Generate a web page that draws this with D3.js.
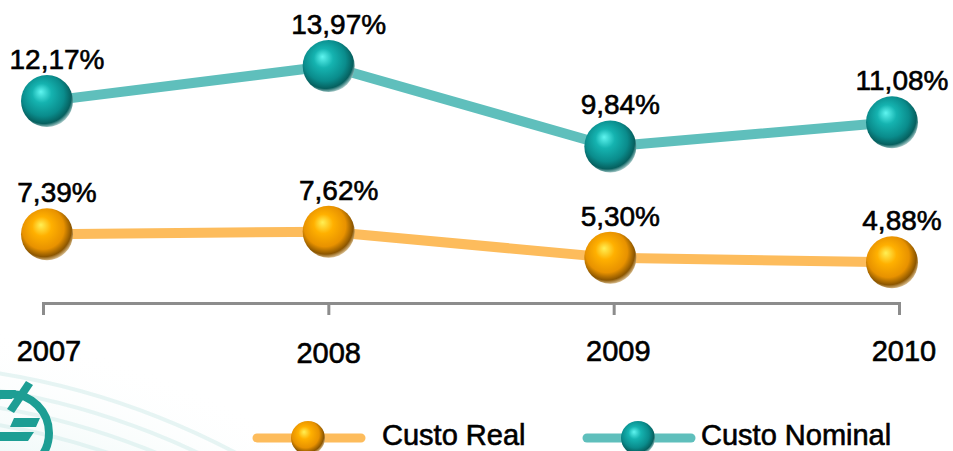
<!DOCTYPE html>
<html>
<head>
<meta charset="utf-8">
<script src="https://cdn.jsdelivr.net/npm/d3@7"></script>
<style>
  body { margin: 0; background: #fff; }
  svg { display: block; font-family: Arial, "Liberation Sans", sans-serif; }
  text { stroke: #000; stroke-width: 0.6px; paint-order: stroke; }
</style>
</head>
<body>
<script>

// data
const years = ["2007", "2008", "2009", "2010"];
const custoNominal = [12.17, 13.97, 9.84, 11.08];
const custoReal = [7.39, 7.62, 5.30, 4.88];
const nominalLabels = ["12,17%", "13,97%", "9,84%", "11,08%"];
const realLabels = ["7,39%", "7,62%", "5,30%", "4,88%"];
const legendNames = ["Custo Real", "Custo Nominal"];

const w = 953;
const h = 451;

const tealLine = "#5fbfbc";
const orangeLine = "#fdbc5c";

// scales (the two series sit on their own vertical scale)
const xScale = d3.scalePoint()
    .domain(years)
    .range([47, 892]);

const xAxisScale = d3.scalePoint()
    .domain(years)
    .range([43, 899]);

const yNominal = d3.scaleLinear()
    .domain([0, 15])
    .range([338, 46]);

const yReal = d3.scaleLinear()
    .domain([0, 10])
    .range([317, 205]);

const svg = d3.select("body")
  .append("svg")
    .attr("width", w)
    .attr("height", h);

const defs = svg.append("defs");

function sphereGrad(id, stops) {
  const g = defs.append("radialGradient")
      .attr("id", id)
      .attr("cx", "45%").attr("cy", "42%")
      .attr("fx", "38%").attr("fy", "32%")
      .attr("r", "62%");
  stops.forEach(s => g.append("stop").attr("offset", s[0]).attr("stop-color", s[1]));
}
sphereGrad("tealBall", [["0%", "#5ff5f0"], ["30%", "#15b3b0"], ["65%", "#0a8c8c"], ["85%", "#06605f"], ["100%", "#e8f4f3"]]);
sphereGrad("orangeBall", [["0%", "#fff055"], ["30%", "#ffb000"], ["65%", "#e89200"], ["85%", "#8c5600"], ["100%", "#f6e6c8"]]);

const bgGrad = defs.append("radialGradient")
    .attr("id", "bgFade")
    .attr("gradientUnits", "userSpaceOnUse")
    .attr("cx", -120).attr("cy", 1120).attr("r", 800);
bgGrad.append("stop").attr("offset", "78%").attr("stop-color", "#d9f0ee").attr("stop-opacity", 0.75);
bgGrad.append("stop").attr("offset", "100%").attr("stop-color", "#ffffff").attr("stop-opacity", 0);

// faint background swirl with logo
const bg = svg.append("g").attr("class", "background");

bg.append("circle")
    .attr("cx", -120).attr("cy", 1120).attr("r", 800)
    .attr("fill", "url(#bgFade)");

[705, 722, 739, 756].forEach(r => {
  bg.append("circle")
      .attr("cx", -120).attr("cy", 1120).attr("r", r)
      .attr("fill", "none")
      .attr("stroke", "#c9e9e6")
      .attr("stroke-opacity", 0.45)
      .attr("stroke-width", 4);
});

bg.append("circle")
    .attr("cx", 10).attr("cy", 433).attr("r", 39)
    .attr("fill", "none")
    .attr("stroke", "#1d9e94")
    .attr("stroke-width", 8);

bg.append("path")
    .attr("d", "M26,381 L33,385 L14,413 L7,409 Z")
    .attr("fill", "#1d9e94");
bg.append("path")
    .attr("d", "M14,418 L40,418 L36,427 L10,427 Z M0,432 L34,432 L28,441 L0,441 Z M0,390 L16,390 L12,399 L0,399 Z")
    .attr("fill", "#1d9e94");

// x axis
svg.append("g")
    .attr("class", "xAxis")
    .attr("transform", "translate(0, 303)")
    .call(d3.axisBottom(xAxisScale).tickSize(12).tickSizeOuter(12).tickFormat(""))
    .call(g => g.selectAll("path, line").attr("stroke", "#8c8c8c").attr("stroke-width", 3));

const yearDx = [2, 0, 8, 12];
const yearDy = [0, 2, 0, 0];
svg.append("g")
  .selectAll("text")
  .data(years)
  .join("text")
    .attr("x", (d, i) => xScale(d) + yearDx[i])
    .attr("y", (d, i) => 361 + yearDy[i])
    .attr("text-anchor", "middle")
    .attr("font-size", 29)
    .attr("fill", "#000")
    .text(d => d);

// lines
const series = [
  {name: "nominal", values: custoNominal, labels: nominalLabels, y: yNominal, line: tealLine, ball: "url(#tealBall)"},
  {name: "real", values: custoReal, labels: realLabels, y: yReal, line: orangeLine, ball: "url(#orangeBall)"}
];

series.forEach(s => {
  const pts = years.map((yr, i) => ({year: yr, value: s.values[i], label: s.labels[i]}));

  svg.append("path")
      .datum(pts)
      .attr("fill", "none")
      .attr("stroke", s.line)
      .attr("stroke-width", 10)
      .attr("stroke-linejoin", "round")
      .attr("d", d3.line().x(d => xScale(d.year)).y(d => s.y(d.value)));

  svg.append("g")
    .selectAll("circle")
    .data(pts)
    .join("circle")
      .attr("cx", d => xScale(d.year))
      .attr("cy", d => s.y(d.value))
      .attr("r", 26)
      .attr("fill", s.ball);

  svg.append("g")
    .selectAll("text")
    .data(pts)
    .join("text")
      .attr("x", d => xScale(d.year) + 10)
      .attr("y", d => s.y(d.value) - 32)
      .attr("text-anchor", "middle")
      .attr("font-size", 28)
      .attr("fill", "#000")
      .text(d => d.label);
});

// legend
const legendX = [253, 583];
const legend = svg.append("g").attr("class", "legend");
[series[1], series[0]].forEach((s, i) => {
  const x0 = legendX[i];
  legend.append("line")
      .attr("x1", x0 + 4).attr("x2", x0 + 108)
      .attr("y1", 438).attr("y2", 438)
      .attr("stroke", s.line)
      .attr("stroke-width", 9)
      .attr("stroke-linecap", "round");
  legend.append("circle")
      .attr("cx", x0 + 55).attr("cy", 438).attr("r", 17)
      .attr("fill", s.ball);
  legend.append("text")
      .attr("x", x0 + (i === 0 ? 129 : 118))
      .attr("y", 445)
      .attr("font-size", 29)
      .attr("fill", "#000")
      .text(legendNames[i]);
});

</script>
</body>
</html>
